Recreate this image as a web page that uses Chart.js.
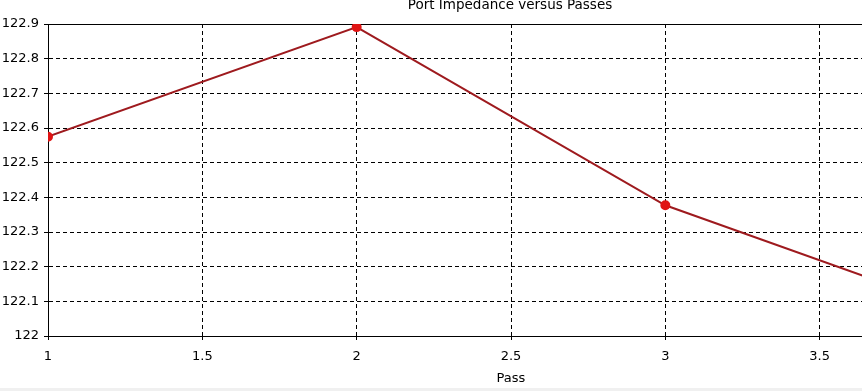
<!DOCTYPE html>
<html>
<head>
<meta charset="utf-8">
<script src="https://cdn.jsdelivr.net/npm/chart.js@4/dist/chart.umd.min.js"></script>
<style>
  html, body { margin: 0; padding: 0; background: #f0f0f0; overflow: hidden; width: 862px; height: 391px; }
  #wrap { position: absolute; left: 0; top: -4px; width: 1020px; height: 392px; background: #ffffff; }
</style>
</head>
<body>
<div id="wrap"><canvas id="c"></canvas></div>
<script>
// Data
const passes = [1, 2, 3, 4];
const impedance = [122.575, 122.891, 122.377, 122.06];
const yTicks = [122, 122.1, 122.2, 122.3, 122.4, 122.5, 122.6, 122.7, 122.8, 122.9];
const xTicks = [1, 1.5, 2, 2.5, 3, 3.5, 4];

const FONT = "'DejaVu Sans', Verdana, sans-serif";

const topBorder = {
  id: 'topBorder',
  beforeDatasetsDraw(chart) {
    const { ctx, chartArea } = chart;
    ctx.save();
    ctx.strokeStyle = '#000';
    ctx.lineWidth = 1;
    ctx.beginPath();
    ctx.moveTo(chartArea.left, Math.round(chartArea.top) + 0.5);
    ctx.lineTo(chartArea.right, Math.round(chartArea.top) + 0.5);
    ctx.stroke();
    ctx.restore();
  }
};

new Chart(document.getElementById('c'), {
  type: 'line',
  data: {
    datasets: [{
      label: 'Port Impedance',
      data: passes.map((p, i) => ({ x: p, y: impedance[i] })),
      borderColor: '#9e1a1e',
      borderWidth: 2,
      pointBackgroundColor: '#e01414',
      pointBorderColor: '#e01414',
      pointRadius: 4,
      pointHoverRadius: 4,
      tension: 0,
      fill: false
    }]
  },
  options: {
    responsive: true,
    maintainAspectRatio: false,
    animation: false,
    layout: { padding: 0 },
    plugins: {
      legend: { display: false },
      tooltip: { enabled: false },
      title: {
        display: true,
        text: 'Port Impedance versus Passes',
        color: '#000',
        font: { family: FONT, size: 13.5, weight: 'normal' },
        padding: { top: 1.1, bottom: 10.7 }
      }
    },
    scales: {
      x: {
        type: 'linear',
        min: 1,
        max: 4,
        afterBuildTicks: (s) => { s.ticks = xTicks.map(v => ({ value: v })); },
        afterFit: (s) => { s.height = 52; },
        grid: { color: '#000', lineWidth: 1, tickLength: 4, tickColor: '#000', drawOnChartArea: true },
        border: { display: true, color: '#000', width: 1, dash: [4, 3] },
        ticks: {
          color: '#000',
          padding: 9,
          maxRotation: 0,
          font: { family: FONT, size: 13 },
          callback: (v) => String(Number(Number(v).toFixed(1)))
        },
        title: {
          display: true,
          text: 'Pass',
          color: '#000',
          font: { family: FONT, size: 13 },
          padding: { top: 0, bottom: 2 }
        }
      },
      y: {
        type: 'linear',
        min: 122,
        max: 122.9,
        afterBuildTicks: (s) => { s.ticks = yTicks.map(v => ({ value: v })); },
        afterFit: (s) => { s.width = 48; },
        grid: { color: '#000', lineWidth: 1, tickLength: 4, tickColor: '#000' },
        border: { display: true, color: '#000', width: 1, dash: [4, 3] },
        ticks: {
          color: '#000',
          padding: 5,
          font: { family: FONT, size: 13 },
          callback: (v) => String(Number(Number(v).toFixed(1)))
        }
      },
      yRight: {
        type: 'linear',
        position: 'right',
        display: true,
        afterFit: (s) => { s.width = 46; },
        grid: { display: false, drawOnChartArea: false },
        border: { display: false },
        ticks: { display: false }
      }
    }
  },
  plugins: [topBorder]
});
</script>
</body>
</html>
